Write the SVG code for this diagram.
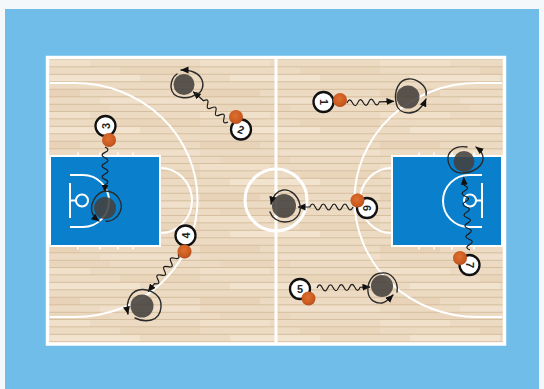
<svg xmlns="http://www.w3.org/2000/svg" width="544" height="389" viewBox="0 0 544 389">
<style>
.ln{fill:none;stroke:#fff;stroke-width:2}
.ln3{fill:none;stroke:#fff;stroke-width:3}
.key{fill:#0a80cc;stroke:#fff;stroke-width:2}
.pl{fill:#44403c;fill-opacity:.88}
.loop{fill:none;stroke:#2a2a2a;stroke-width:1.4;stroke-linecap:round}
.wig{fill:none;stroke:#1c1c1c;stroke-width:1.2;marker-end:url(#ah)}
.tok{fill:#fff;stroke:#111;stroke-width:2.300}
.num{font:bold 11px "Liberation Sans",Arial,sans-serif;fill:#222;text-anchor:middle;dominant-baseline:central}
.ball{fill:url(#bg)}
</style>
<defs>
<marker id="ah" markerWidth="9" markerHeight="8" refX="7.500" refY="3.500" orient="auto" markerUnits="userSpaceOnUse"><path d="M0 0L8 3.500L0 7z" fill="#111"/></marker>
<radialGradient id="bg" cx=".45" cy=".4" r=".65"><stop offset="0" stop-color="#e0702f"/><stop offset=".7" stop-color="#c95a20"/><stop offset="1" stop-color="#a8481a"/></radialGradient>
<pattern id="wood" width="180" height="52" patternUnits="userSpaceOnUse" x="20" y="60">
<rect width="180" height="52" fill="#ecdac2"/>
<rect y="0" width="70" height="7" fill="#f0e0ca"/><rect x="100" y="7.500" width="80" height="7" fill="#e9d5ba"/><rect x="30" y="15" width="90" height="7" fill="#f2e3cf"/><rect x="0" y="30" width="60" height="7" fill="#e8d3b8"/><rect x="80" y="37.500" width="100" height="7" fill="#f0e0cb"/><rect x="20" y="45" width="70" height="7" fill="#ead6bc"/>
<path d="M0 6.800H180M0 14.300H180M0 21.800H180M0 29.300H180M0 36.800H180M0 44.300H180M0 51.500H180" stroke="#d6bf9f" stroke-width="1"/>
</pattern>
</defs>
<rect width="544" height="389" fill="#f4f8fb"/>
<rect x="5" y="9" width="534" height="380" fill="#6fbde8"/>
<g id="court">
<rect x="48" y="57.500" width="456" height="286" fill="url(#wood)"/>
<path class="ln" d="M50 83H75A122.500 117 0 0 1 75 317H50"/>
<path class="ln" d="M502 83H477A122.500 117 0 0 0 477 317H502"/>
<rect class="key" x="50" y="156" width="110" height="90"/>
<rect class="key" x="392" y="156" width="110" height="90"/>
<path class="ln" d="M160 168A32 32.500 0 0 1 160 233"/>
<path class="ln" d="M392 168A32 32.500 0 0 0 392 233"/>
<circle cx="276" cy="200" r="31" class="ln3"/>
<path class="ln" d="M70 175H83A26 26 0 0 1 83 227H70"/>
<path class="ln" d="M482 175H469A26 26 0 0 0 469 227H482"/>
<path class="ln" d="M70 183V218M70 200.500H76M482 183V218M482 200.500H476"/>
<circle class="ln" cx="82" cy="200.500" r="6"/><circle class="ln" cx="470" cy="200.500" r="6"/>
<path d="M78 152.500V156M100 152.500V156M118 152.500V156M133 152.500V156M78 246V249.500M100 246V249.500M118 246V249.500M133 246V249.500M419 152.500V156M434 152.500V156M452 152.500V156M474 152.500V156M419 246V249.500M434 246V249.500M452 246V249.500M474 246V249.500" stroke="#fff" stroke-width="1.500" fill="none"/>
<rect x="47.500" y="57.500" width="457" height="286.500" fill="none" stroke="#fff" stroke-width="3.500"/>
<path d="M276 58V344" stroke="#fff" stroke-width="3"/>
</g>
<g id="players">
<circle id="player-a" class="pl" cx="184" cy="84.500" r="10.500"/>
<circle id="player-b" class="pl" cx="105" cy="208" r="11"/>
<circle id="player-c" class="pl" cx="142" cy="306" r="11.500"/>
<circle id="player-d" class="pl" cx="408" cy="97" r="11.500"/>
<circle id="player-e" class="pl" cx="464" cy="161.500" r="10.500"/>
<circle id="player-f" class="pl" cx="284" cy="206" r="12"/>
<circle id="player-g" class="pl" cx="382" cy="286" r="11"/>
</g>
<g id="connectors">
<path class="wig" transform="translate(347 103) rotate(-2)" d="M0 0q2.700-6 5.400 0t5.400 0t5.400 0t5.400 0t5.400 0t5.400 0L47 0"/>
<path class="wig" transform="translate(228 122) rotate(221)" d="M0 0q2.700-6 5.400 0t5.400 0t5.400 0t5.400 0t5.400 0t5.400 0L46 0"/>
<path class="wig" transform="translate(105 147) rotate(90)" d="M0 0q2.700-6 5.400 0t5.400 0t5.400 0t5.400 0t5.400 0t5.400 0t5.400 0L45 0"/>
<path class="wig" transform="translate(178 254) rotate(128.500)" d="M0 0q2.700-6 5.400 0t5.400 0t5.400 0t5.400 0t5.400 0t5.400 0t5.400 0L48 0"/>
<path class="wig" transform="translate(317 288) rotate(-1)" d="M0 0q2.700-6 5.400 0t5.400 0t5.400 0t5.400 0t5.400 0t5.400 0t5.400 0t5.400 0L53 0"/>
<path class="wig" transform="translate(353 207) rotate(180)" d="M0 0q2.700-6 5.400 0t5.400 0t5.400 0t5.400 0t5.400 0t5.400 0t5.400 0t5.400 0L55 0"/>
<path class="wig" transform="translate(470 250) rotate(-95)" d="M0 0q2.700-6 5.400 0t5.400 0t5.400 0t5.400 0t5.400 0t5.400 0t5.400 0t5.400 0t5.400 0t5.400 0t5.400 0t5.400 0L73 0"/>
<path class="loop" marker-end="url(#ah)" d="M196 93C199 96 205 88 202 80C199 73 192 70 181 70"/>
<path class="loop" d="M197 93C190 100 172 100 171 87C171 80 174 76 177 74"/>
<path class="loop" d="M105 191C118 191 124 204 120 212C117 219 110 222 106 221"/>
<path class="loop" marker-end="url(#ah)" d="M105 191C95 193 90 205 92 212C93 216 95 218 99 221"/>
<path class="loop" marker-end="url(#ah)" d="M135 318C145 323 160 322 161 307C162 296 152 290 143 289.500C132 289 125 300 128 314"/>
<path class="loop" marker-end="url(#ah)" d="M426 95C428 85 415 78 408 79C398 80 394 92 396 102C397 110 403 113 409 113C416 113 422 108 426 99"/>
<path class="loop" marker-end="url(#ah)" d="M467 147C455 145 447 152 448 160C449 170 457 174 464 173C475 172 484 165 483 157C482.500 153 480 150 476 147"/>
<path class="loop" marker-end="url(#ah)" d="M270 212C272 218 278 222 285 222C295 222 302 214 300 205C298 195 290 189 283 190C277 191 273 196 271 204"/>
<path class="loop" marker-end="url(#ah)" d="M397 292C399 280 390 272 382 273C372 273 367 283 368 292C369 300 376 304 382 303C386 302.500 389 299 393 295"/>
</g>
<g id="token-1"><circle class="tok" cx="323.500" cy="102" r="10"/><text class="num" x="323.500" y="102" transform="rotate(90 323.500 102)">1</text><circle class="ball" cx="340" cy="100" r="7"/></g>
<g id="token-2"><circle class="tok" cx="241" cy="129.500" r="10"/><text class="num" x="241" y="129.500" transform="rotate(20 241 129.500)">2</text><circle class="ball" cx="236" cy="117" r="7"/></g>
<g id="token-3"><circle class="tok" cx="105.500" cy="126" r="10"/><text class="num" x="105.500" y="126" transform="rotate(-90 105.500 126)">3</text><circle class="ball" cx="109" cy="140" r="7"/></g>
<g id="token-4"><circle class="tok" cx="185.500" cy="235.500" r="10"/><text class="num" x="185.500" y="235.500" transform="rotate(-90 185.500 235.500)">4</text><circle class="ball" cx="184.500" cy="251.500" r="7"/></g>
<g id="token-5"><circle class="tok" cx="300" cy="289" r="10"/><text class="num" x="300" y="289" transform="rotate(0 300 289)">5</text><circle class="ball" cx="308.500" cy="298.500" r="7"/></g>
<g id="token-6"><circle class="tok" cx="367" cy="208" r="10"/><text class="num" x="367" y="208" transform="rotate(90 367 208)">6</text><circle class="ball" cx="357.500" cy="200.500" r="7"/></g>
<g id="token-7"><circle class="tok" cx="469.500" cy="265" r="10"/><text class="num" x="469.500" y="265" transform="rotate(90 469.500 265)">7</text><circle class="ball" cx="460" cy="258" r="7"/></g>
</svg>
